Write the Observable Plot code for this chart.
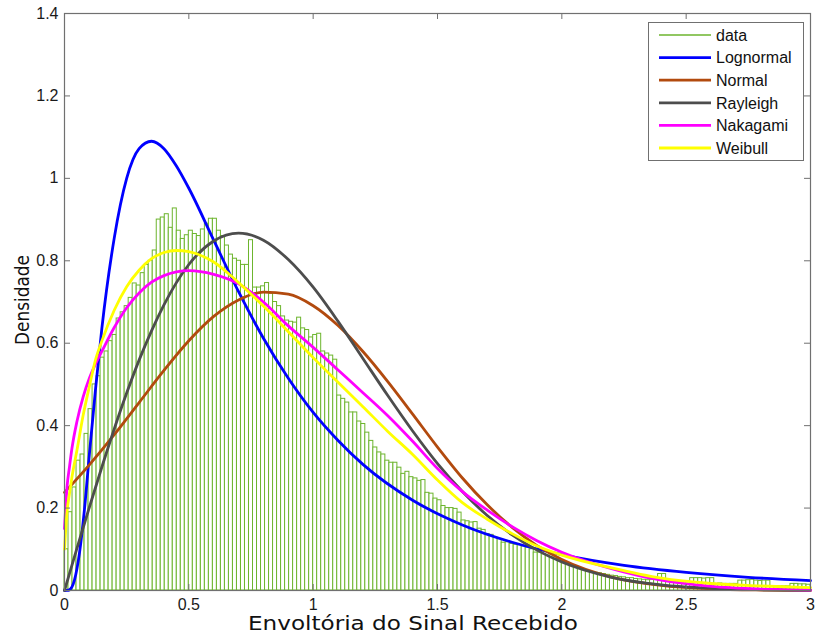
<!DOCTYPE html>
<html><head><meta charset="utf-8">
<script src="https://cdn.jsdelivr.net/npm/d3@7"></script>
<script src="https://cdn.jsdelivr.net/npm/@observablehq/plot@0.6"></script>
<style>body{margin:0;background:#fff}#chart svg{display:block}</style>
</head><body><div id="chart"></div>
<script>
// ---- data ----
const binCount = 186;
const xMax = 3;
const barHeights = [
 0.10,0.19,0.25,0.315,0.33,0.38,0.44,0.50,0.52,0.565,
 0.58,0.605,0.62,0.66,0.675,0.69,0.71,0.745,0.74,0.77,
 0.79,0.80,0.825,0.90,0.905,0.913,0.88,0.927,0.873,0.853,
 0.862,0.873,0.865,0.86,0.876,0.89,0.902,0.902,0.873,0.86,
 0.837,0.815,0.805,0.80,0.79,0.79,0.85,0.735,0.735,0.738,
 0.746,0.72,0.70,0.69,0.665,0.655,0.652,0.65,0.662,0.636,
 0.632,0.614,0.62,0.623,0.58,0.575,0.57,0.56,0.473,0.465,
 0.456,0.432,0.432,0.41,0.404,0.383,0.363,0.347,0.335,0.33,
 0.315,0.31,0.31,0.298,0.283,0.288,0.275,0.272,0.266,0.268,
 0.237,0.235,0.223,0.219,0.205,0.20,0.20,0.198,0.189,0.17,
 0.168,0.165,0.166,0.15,0.147,0.137,0.135,0.128,0.125,0.116,
 0.117,0.113,0.111,0.11,0.107,0.104,0.10,0.092,0.092,0.088,
 0.085,0.08,0.077,0.072,0.069,0.065,0.06,0.059,0.052,0.05,
 0.046,0.045,0.043,0.042,0.04,0.038,0.036,0.035,0.033,0.032,
 0.03,0.03,0.028,0.027,0.026,0.025,0.026,0.026,0.04,0.04,
 0.024,0.022,0.022,0.021,0.02,0.02,0.03,0.03,0.03,0.029,
 0.03,0.03,0.016,0.017,0.016,0.016,0.016,0.016,0.024,0.024,
 0.025,0.026,0.024,0.023,0.024,0.024,0.01,0.01,0.01,0.01,
 0.01,0.016,0.016,0.015,0.015,0.014
];
const lognormalX = [0,0.01,0.02,0.04,0.06,0.08,0.1,0.125,0.15,0.2,0.25,0.3,0.35,0.4,0.45,0.5,0.6,0.7,0.8,0.9,1.0,1.1,1.2,1.4,1.6,1.8,2.0,2.25,2.5,2.75,3.0];
const lognormalY = [0,0.0001,0.0015,0.025,0.09,0.195,0.33,0.49,0.635,0.855,1.0,1.072,1.09,1.072,1.03,0.976,0.85,0.725,0.612,0.515,0.432,0.364,0.306,0.219,0.159,0.117,0.087,0.061,0.044,0.032,0.024];
const normalX = [0,0.1,0.2,0.3,0.4,0.5,0.6,0.7,0.8,0.9,1.0,1.1,1.2,1.3,1.4,1.5,1.6,1.7,1.8,1.9,2.0,2.2,2.4,2.6,2.8,3.0];
const normalY = [0.238,0.305,0.378,0.456,0.534,0.606,0.665,0.705,0.724,0.719,0.691,0.643,0.580,0.507,0.428,0.348,0.273,0.208,0.153,0.109,0.0755,0.0326,0.0123,0.0041,0.0012,0.0003];
const rayleighX = [0,0.02,0.05,0.1,0.15,0.2,0.25,0.3,0.35,0.4,0.45,0.5,0.6,0.7,0.8,0.9,1.0,1.1,1.2,1.3,1.4,1.5,1.6,1.7,1.8,1.9,2.0,2.2,2.4,2.6,2.8,3.0];
const rayleighY = [0,0.041,0.102,0.202,0.299,0.392,0.479,0.559,0.630,0.693,0.747,0.791,0.848,0.867,0.850,0.803,0.736,0.653,0.563,0.473,0.387,0.308,0.240,0.182,0.135,0.098,0.069,0.032,0.0137,0.0054,0.0019,0.0006];
const nakagamiX = [0,0.01,0.02,0.03,0.05,0.075,0.1,0.125,0.15,0.2,0.25,0.3,0.35,0.4,0.45,0.5,0.6,0.7,0.8,0.9,1.0,1.1,1.2,1.3,1.4,1.5,1.6,1.7,1.8,1.9,2.0,2.2,2.4,2.6,2.8,3.0];
const nakagamiY = [0.15,0.25,0.30,0.345,0.41,0.47,0.515,0.55,0.58,0.638,0.686,0.722,0.748,0.764,0.773,0.776,0.767,0.744,0.70,0.642,0.59,0.535,0.48,0.424,0.362,0.296,0.24,0.195,0.155,0.121,0.093,0.053,0.025,0.01,0.0035,0.001];
const weibullX = [0,0.01,0.02,0.03,0.05,0.075,0.1,0.125,0.15,0.2,0.25,0.3,0.35,0.4,0.45,0.5,0.6,0.7,0.8,0.9,1.0,1.1,1.2,1.3,1.4,1.5,1.6,1.7,1.8,1.9,2.0,2.2,2.4,2.6,2.8,3.0];
const weibullY = [0.10,0.19,0.235,0.275,0.34,0.425,0.495,0.56,0.605,0.68,0.737,0.777,0.805,0.82,0.825,0.822,0.797,0.747,0.69,0.628,0.565,0.505,0.446,0.386,0.33,0.268,0.213,0.173,0.138,0.108,0.086,0.055,0.03,0.017,0.011,0.007];
const seriesNames  = ["Lognormal","Normal","Rayleigh","Nakagami","Weibull"];
const seriesXs = [lognormalX, normalX, rayleighX, nakagamiX, weibullX];
const seriesYs = [lognormalY, normalY, rayleighY, nakagamiY, weibullY];
const seriesColors = ["#0000ff","#b24a0e","#4d4d4d","#ff00ff","#ffff00"];
const dataLabel = "data";
const dataColor = "#6db52e";
const xTicks = [0,0.5,1,1.5,2,2.5,3];
const yTicks = [0,0.2,0.4,0.6,0.8,1,1.2,1.4];
const xLabel = "Envoltória do Sinal Recebido";
const yLabel = "Densidade";

// ---- build tables ----
const binW = xMax / binCount;
const bars = barHeights.map((h, i) => ({x1: i * binW, x2: (i + 1) * binW, y: h}));
const curveTables = seriesYs.map((ys, k) => ys.map((y, j) => ({x: seriesXs[k][j], y})));

const W = 815, H = 637, mL = 64, mR = 5, mT = 13, mB = 47;
const iW = W - mL - mR, iH = H - mT - mB;
const frameColor = "#707070";
const tickFont = "'Liberation Sans', Arial, sans-serif";

const chart = Plot.plot({
  width: W, height: H,
  marginLeft: mL, marginRight: mR, marginTop: mT, marginBottom: mB,
  x: {domain: [0, 3]},
  y: {domain: [0, 1.4]},
  style: {fontFamily: tickFont, fontSize: "16px", color: "#1a1a1a", background: "white"},
  marks: [
    Plot.rectY(bars, {x1: "x1", x2: "x2", y1: 0, y2: "y", fill: "white", stroke: dataColor, strokeWidth: 1}),
    ...curveTables.map((t, k) => Plot.line(t, {x: "x", y: "y", stroke: seriesColors[k], strokeWidth: 2.8, curve: "monotone-x"})),
    Plot.frame({stroke: frameColor, strokeWidth: 1.2}),
    Plot.tickX(xTicks, {x: d => d, insetTop: iH - 6, stroke: frameColor}),
    Plot.tickX(xTicks, {x: d => d, insetBottom: iH - 6, stroke: frameColor}),
    Plot.tickY(yTicks, {y: d => d, insetRight: iW - 6, stroke: frameColor}),
    Plot.tickY(yTicks, {y: d => d, insetLeft: iW - 6, stroke: frameColor}),
    Plot.axisX({ticks: xTicks, tickSize: 0, tickPadding: 8, tickFormat: d => String(d), label: null, fontSize: 16}),
    Plot.axisY({ticks: yTicks, tickSize: 0, tickPadding: 6, tickFormat: d => String(d), label: null, fontSize: 16})
  ]
});
document.getElementById("chart").appendChild(chart);

// ---- axis titles ----
const svg = d3.select(chart);
const titleFont = "'DejaVu Sans', 'Comic Sans MS', sans-serif";
svg.append("text").text(xLabel)
  .attr("x", 413).attr("y", 630).attr("text-anchor", "middle")
  .attr("font-family", titleFont).attr("font-size", 19).attr("fill", "#111")
  .attr("textLength", 330).attr("lengthAdjust", "spacingAndGlyphs");
svg.append("text").text(yLabel)
  .attr("transform", "translate(29,300) rotate(-90)").attr("text-anchor", "middle")
  .attr("font-family", titleFont).attr("font-size", 19).attr("fill", "#111")
  .attr("textLength", 90).attr("lengthAdjust", "spacingAndGlyphs");

// ---- legend ----
const legendItems = [{name: dataLabel, color: dataColor, w: 1.3}]
  .concat(seriesNames.map((n, k) => ({name: n, color: seriesColors[k], w: 2.8})));
const lg = svg.append("g");
lg.append("rect").attr("x", 648.5).attr("y", 22.5).attr("width", 155).attr("height", 138)
  .attr("fill", "white").attr("stroke", frameColor).attr("stroke-width", 1);
legendItems.forEach((it, i) => {
  const y = 35 + i * 22.6;
  lg.append("line").attr("x1", 659).attr("x2", 711).attr("y1", y).attr("y2", y)
    .attr("stroke", it.color).attr("stroke-width", it.w);
  lg.append("text").text(it.name).attr("x", 716).attr("y", y).attr("dy", "0.36em")
    .attr("text-anchor", "start")
    .attr("font-family", tickFont).attr("font-size", 16).attr("fill", "#111");
});
</script>
</body></html>
